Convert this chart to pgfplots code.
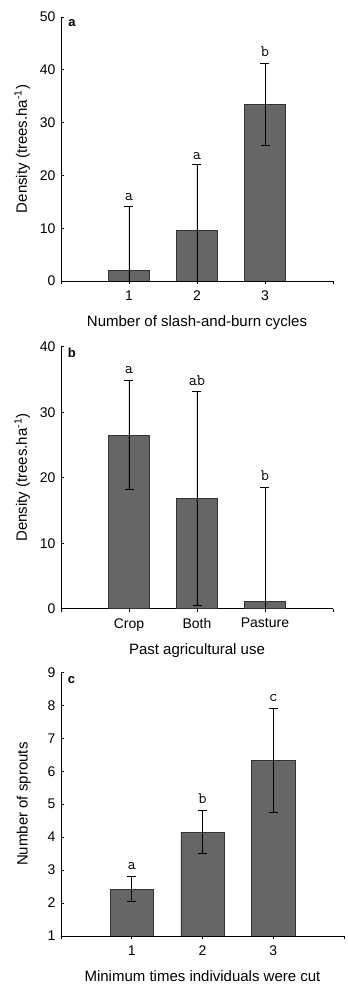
\documentclass[border=0pt]{standalone}
\usepackage{fontspec}
\setmainfont{Liberation Sans}
\usepackage{pgfplots}
\pgfplotsset{compat=1.18}
\definecolor{barfill}{HTML}{666666}
\definecolor{baredge}{HTML}{333333}
\newcommand{\lf}{\ttfamily\fontsize{16}{16}\selectfont}
\newcommand{\pf}{\bfseries\fontsize{13}{13}\selectfont}
\pgfplotsset{
  panel/.style={
    scale only axis,
    axis x line*=bottom, axis y line*=left,
    axis line style={-, black, line width=0.8pt},
    tick align=inside, major tick length=3pt,
    tick style={black, line width=0.6pt},
    xmin=0, xmax=4, xtick={0,1,2,3,4},
    ticklabel style={font=\fontsize{14}{15}\selectfont},
    label style={font=\fontsize{15}{17}\selectfont},
    /pgf/number format/assume math mode=true,
    ybar, bar width=0.61, bar shift=0pt,
    clip=true,
    yticklabel style={xshift=-2pt},
    xticklabel style={yshift=-3pt},
  },
  bars/.style={fill=barfill, draw=baredge, line width=0.5pt,
    error bars/.cd, y dir=both, y explicit,
    error mark options={rotate=90, mark size=4.5pt, line width=0.8pt},
    error bar style={line width=0.6pt, black}},
}
\begin{document}
\begin{tikzpicture}
\path (0pt,0pt) rectangle (344pt,988pt);
% Panel a
\begin{axis}[panel, at={(61pt,707pt)}, anchor=south west,
  width=272pt, height=264pt, ymin=0, ymax=50, ytick={0,10,20,30,40,50},
  xticklabels={,1,2,3,},
  xlabel={Number of slash-and-burn cycles},
  ylabel={Density (trees.ha\textsuperscript{-1})},
  xlabel style={yshift=-8pt}, ylabel style={yshift=3pt}]
\addplot[bars] coordinates {(1,1.95) +- (0,12.1) (2,9.6) +- (0,12.4) (3,33.5) +- (0,7.8)};
\node[font=\pf] at (axis cs:0.16,48.9) {a};
\node[font=\lf, anchor=south] at (axis cs:1,14.5) {a};
\node[font=\lf, anchor=south] at (axis cs:2,22.4) {a};
\node[font=\lf, anchor=south] at (axis cs:3,41.8) {b};
\end{axis}
% Panel b
\begin{axis}[panel, at={(61pt,379.3pt)}, anchor=south west,
  width=272pt, height=262pt, ymin=0, ymax=40, ytick={0,10,20,30,40},
  xticklabels={,Crop,Both,Pasture,},
  xlabel={Past agricultural use},
  ylabel={Density (trees.ha\textsuperscript{-1})},
  xticklabel style={font=\fontsize{14}{15}\selectfont\vphantom{p}},
  xlabel style={yshift=-5pt}, ylabel style={yshift=3pt}]
\addplot[bars] coordinates {(1,26.5) +- (0,8.35) (2,16.8) +- (0,16.3) (3,1.07) +- (0,17.45)};
\node[font=\pf] at (axis cs:0.16,39.1) {b};
\node[font=\lf, anchor=south] at (axis cs:1,35.3) {a};
\node[font=\lf, anchor=south] at (axis cs:2,33.5) {ab};
\node[font=\lf, anchor=south] at (axis cs:3,19.0) {b};
\end{axis}
% Panel c
\begin{axis}[panel, at={(61pt,52pt)}, anchor=south west,
  width=283pt, height=263.7pt, ymin=1, ymax=9, ytick={1,2,...,9},
  xticklabels={,1,2,3,},
  xlabel={Minimum times individuals were cut},
  ylabel={Number of sprouts},
  xlabel style={yshift=-8pt}, ylabel style={yshift=10pt}]
\addplot[bars] coordinates {(1,2.42) +- (0,0.38) (2,4.15) +- (0,0.65) (3,6.33) +- (0,1.58)};
\node[font=\pf] at (axis cs:0.15,8.75) {c};
\node[font=\lf, anchor=south] at (axis cs:1,2.9) {a};
\node[font=\lf, anchor=south] at (axis cs:2,4.9) {b};
\node[font=\lf, anchor=south] at (axis cs:3,8.0) {c};
\end{axis}
\end{tikzpicture}
\end{document}
